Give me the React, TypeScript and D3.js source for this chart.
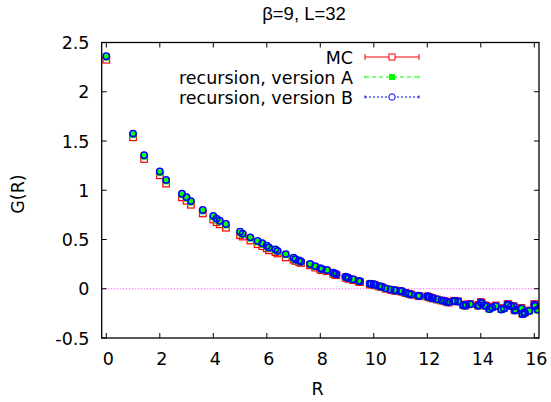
import React from "react";
import * as d3 from "d3";

const W = 551;
const H = 402;

// R values (lattice distances)
const rValues = [
  0, 1, 1.414, 2, 2.236, 2.828, 3, 3.162, 3.606, 4, 4.123, 4.243, 4.472, 5, 5.099, 5.385, 5.657, 5.831,
  6, 6.083, 6.325, 6.403, 6.708, 7, 7.071, 7.211, 7.28, 7.616, 7.81, 8, 8.062, 8.246, 8.485, 8.544, 8.602,
  8.944, 9, 9.055, 9.22, 9.434, 9.487, 9.849, 9.899, 10, 10.05, 10.198, 10.296, 10.44, 10.63, 10.77, 10.817,
  11, 11.045, 11.18, 11.314, 11.402, 11.662, 11.705, 12, 12.042, 12.083, 12.166, 12.207, 12.369, 12.53,
  12.649, 12.728, 12.806, 13, 13.038, 13.153, 13.342, 13.416, 13.454, 13.601, 13.892, 13.928, 14, 14.036,
  14.142, 14.213, 14.318, 14.422, 14.56, 14.765, 14.866, 15, 15.033, 15.133, 15.232, 15.264, 15.297, 15.524,
  15.556, 15.62, 15.652, 15.811, 16, 16.031, 16.125,
];

const gMC = [
  2.325, 1.538, 1.318, 1.152, 1.068, 0.928, 0.893, 0.853, 0.765, 0.703, 0.676, 0.654, 0.62, 0.545, 0.53, 0.49,
  0.452, 0.432, 0.41, 0.39, 0.372, 0.358, 0.318, 0.295, 0.283, 0.27, 0.262, 0.238, 0.215, 0.195, 0.188, 0.178,
  0.15, 0.144, 0.138, 0.112, 0.108, 0.1, 0.088, 0.072, 0.067, 0.045, 0.043, 0.04, 0.034, 0.022, 0.016, 0.0,
  -0.012, -0.018, -0.02, -0.025, -0.03, -0.043, -0.052, -0.06, -0.072, -0.076, -0.078, -0.083, -0.088, -0.094,
  -0.099, -0.11, -0.12, -0.127, -0.134, -0.14, -0.122, -0.126, -0.128, -0.165, -0.17, -0.16, -0.155, -0.17,
  -0.165, -0.135, -0.145, -0.168, -0.175, -0.2, -0.186, -0.17, -0.205, -0.196, -0.155, -0.16, -0.175, -0.176,
  -0.218, -0.21, -0.195, -0.255, -0.236, -0.24, -0.22, -0.155, -0.17, -0.208,
];

const mcErr = [
  0.006, 0.005, 0.005, 0.005, 0.005, 0.005, 0.005, 0.005, 0.005, 0.005, 0.005, 0.005, 0.005, 0.005, 0.005, 0.005,
  0.005, 0.005, 0.005, 0.005, 0.005, 0.005, 0.005, 0.005, 0.005, 0.005, 0.005, 0.005, 0.005, 0.005, 0.005, 0.005,
  0.005, 0.005, 0.005, 0.005, 0.005, 0.005, 0.005, 0.005, 0.005, 0.005, 0.005, 0.005, 0.005, 0.005, 0.005, 0.005,
  0.006, 0.006, 0.006, 0.006, 0.006, 0.006, 0.006, 0.006, 0.006, 0.006, 0.006, 0.006, 0.006, 0.006, 0.006, 0.006,
  0.006, 0.006, 0.006, 0.006, 0.007, 0.007, 0.007, 0.007, 0.007, 0.007, 0.007, 0.007, 0.007, 0.007, 0.007, 0.007,
  0.007, 0.007, 0.007, 0.007, 0.007, 0.007, 0.008, 0.008, 0.008, 0.008, 0.008, 0.008, 0.008, 0.008, 0.008, 0.008,
  0.008, 0.008, 0.008, 0.008, 0.008,
];

const gA = [
  2.348, 1.563, 1.343, 1.178, 1.093, 0.953, 0.918, 0.878, 0.788, 0.728, 0.7, 0.678, 0.645, 0.566, 0.549, 0.511,
  0.474, 0.451, 0.428, 0.411, 0.392, 0.377, 0.344, 0.307, 0.293, 0.28, 0.27, 0.245, 0.223, 0.202, 0.195, 0.184,
  0.157, 0.15, 0.143, 0.117, 0.112, 0.105, 0.093, 0.076, 0.071, 0.048, 0.047, 0.043, 0.037, 0.024, 0.017, 0.001,
  -0.011, -0.018, -0.021, -0.025, -0.03, -0.043, -0.053, -0.061, -0.073, -0.076, -0.079, -0.083, -0.089, -0.095,
  -0.1, -0.11, -0.121, -0.127, -0.135, -0.141, -0.128, -0.13, -0.133, -0.171, -0.175, -0.166, -0.161, -0.175,
  -0.171, -0.143, -0.151, -0.173, -0.181, -0.208, -0.193, -0.178, -0.213, -0.203, -0.163, -0.168, -0.181, -0.183,
  -0.225, -0.218, -0.203, -0.261, -0.243, -0.248, -0.228, -0.165, -0.178, -0.215,
];

const gB = [
  2.36, 1.575, 1.355, 1.19, 1.105, 0.965, 0.93, 0.89, 0.8, 0.74, 0.712, 0.69, 0.657, 0.578, 0.56, 0.522,
  0.485, 0.462, 0.437, 0.42, 0.4, 0.385, 0.352, 0.315, 0.3, 0.287, 0.277, 0.252, 0.23, 0.208, 0.2, 0.19,
  0.162, 0.155, 0.148, 0.122, 0.117, 0.11, 0.097, 0.08, 0.075, 0.052, 0.05, 0.046, 0.04, 0.027, 0.02, 0.004,
  -0.008, -0.015, -0.018, -0.022, -0.027, -0.04, -0.05, -0.058, -0.07, -0.073, -0.076, -0.08, -0.086, -0.092,
  -0.097, -0.107, -0.118, -0.124, -0.132, -0.138, -0.125, -0.127, -0.13, -0.168, -0.172, -0.163, -0.158, -0.172,
  -0.168, -0.14, -0.148, -0.17, -0.178, -0.205, -0.19, -0.175, -0.21, -0.2, -0.16, -0.165, -0.178, -0.18,
  -0.222, -0.215, -0.2, -0.258, -0.24, -0.245, -0.225, -0.162, -0.175, -0.212,
];

const xTicks = [0, 2, 4, 6, 8, 10, 12, 14, 16];
const yTicks = [-0.5, 0, 0.5, 1, 1.5, 2, 2.5];
const legendLabels = ["MC", "recursion, version A", "recursion, version B"];

const X_DOMAIN: [number, number] = [-0.172, 16.176];
const Y_DOMAIN: [number, number] = [-0.5, 2.5];

const plot = { left: 101.7, right: 539, top: 42.5, bottom: 338 };

const FONT = "'DejaVu Sans', sans-serif";

export default function App() {
  const x = d3.scaleLinear().domain(X_DOMAIN).range([plot.left, plot.right]);
  const y = d3.scaleLinear().domain(Y_DOMAIN).range([plot.bottom, plot.top]);

  const tickLen = 5;
  const legX0 = 365;
  const legX1 = 419;
  const legXM = 392;
  const legTextX = 353;
  const legY = [57, 77, 97];

  return (
    <svg
      width={W}
      height={H}
      style={{ position: "absolute", left: 0, top: 0, background: "#fff" }}
      xmlns="http://www.w3.org/2000/svg"
    >
      <rect x={0} y={0} width={W} height={H} fill="#fff" />
      <defs>
        <clipPath id="plotclip">
          <rect x={plot.left} y={plot.top} width={plot.right - plot.left} height={plot.bottom - plot.top} />
        </clipPath>
      </defs>

      {/* zero line */}
      <line
        x1={plot.left}
        x2={plot.right}
        y1={y(0)}
        y2={y(0)}
        stroke="#ff00ff"
        strokeOpacity={0.55}
        strokeWidth={1}
        strokeDasharray="1.5,1.5"
      />

      {/* ticks */}
      {xTicks.map((t) => (
        <g key={"xt" + t}>
          <line x1={x(t)} x2={x(t)} y1={plot.bottom} y2={plot.bottom - tickLen} stroke="#000" />
          <line x1={x(t)} x2={x(t)} y1={plot.top} y2={plot.top + tickLen} stroke="#000" />
          <text
            x={x(t) + 2}
            y={365}
            textAnchor="middle"
            fontFamily={FONT}
            fontSize={17.5}
            fill="#000"
          >
            {t}
          </text>
        </g>
      ))}
      {yTicks.map((t) => (
        <g key={"yt" + t}>
          <line x1={plot.left} x2={plot.left + tickLen} y1={y(t)} y2={y(t)} stroke="#000" />
          <line x1={plot.right} x2={plot.right - tickLen} y1={y(t)} y2={y(t)} stroke="#000" />
          <text
            x={89.5}
            y={y(t) + 6.5}
            textAnchor="end"
            fontFamily={FONT}
            fontSize={17.5}
            fill="#000"
          >
            {t}
          </text>
        </g>
      ))}

      {/* data */}
      <g clipPath="url(#plotclip)">
        {rValues.map((r, i) => (
          <g key={"mc" + i}>
            <line
              x1={x(r)}
              x2={x(r)}
              y1={y(gMC[i] - mcErr[i])}
              y2={y(gMC[i] + mcErr[i])}
              stroke="#ff0000"
            />
            <rect
              x={x(r) - 3.3}
              y={y(gMC[i]) - 3.3}
              width={6.6}
              height={6.6}
              fill="none"
              stroke="#ff0000"
              strokeWidth={1.2}
            />
          </g>
        ))}
        {rValues.map((r, i) => (
          <rect
            key={"a" + i}
            x={x(r) - 3.3}
            y={y(gA[i]) - 3.3}
            width={6.6}
            height={6.6}
            fill="#00ff00"
          />
        ))}
        {rValues.map((r, i) => (
          <circle
            key={"b" + i}
            cx={x(r)}
            cy={y(gB[i])}
            r={3.2}
            fill="none"
            stroke="#0000ff"
            strokeWidth={1.5}
          />
        ))}
      </g>

      {/* frame */}
      <rect
        x={plot.left}
        y={plot.top}
        width={plot.right - plot.left}
        height={plot.bottom - plot.top}
        fill="none"
        stroke="#000"
        strokeWidth={1.3}
      />

      {/* legend */}
      {legendLabels.map((lab, i) => (
        <text
          key={"lt" + i}
          x={legTextX}
          y={legY[i] + 6.5}
          textAnchor="end"
          fontFamily={FONT}
          fontSize={17.5}
          fill="#000"
        >
          {lab}
        </text>
      ))}
      {/* MC sample */}
      <line x1={legX0} x2={legX1} y1={legY[0]} y2={legY[0]} stroke="#ff0000" />
      <line x1={legX0} x2={legX0} y1={legY[0] - 3} y2={legY[0] + 3} stroke="#ff0000" />
      <line x1={legX1} x2={legX1} y1={legY[0] - 3} y2={legY[0] + 3} stroke="#ff0000" />
      <rect x={legXM - 3} y={legY[0] - 3} width={6} height={6} fill="#fff" stroke="#ff0000" />
      {/* A sample */}
      <line x1={legX0} x2={legX1} y1={legY[1]} y2={legY[1]} stroke="#00ff00" strokeDasharray="4,3" />
      <line x1={legX0} x2={legX0} y1={legY[1] - 1.5} y2={legY[1] + 1.5} stroke="#00ff00" />
      <line x1={legX1} x2={legX1} y1={legY[1] - 1.5} y2={legY[1] + 1.5} stroke="#00ff00" />
      <rect x={legXM - 3} y={legY[1] - 3} width={6} height={6} fill="#00ff00" />
      {/* B sample */}
      <line x1={legX0} x2={legX1} y1={legY[2]} y2={legY[2]} stroke="#0000ff" strokeDasharray="2,2" />
      <line x1={legX0} x2={legX0} y1={legY[2] - 1.5} y2={legY[2] + 1.5} stroke="#0000ff" />
      <line x1={legX1} x2={legX1} y1={legY[2] - 1.5} y2={legY[2] + 1.5} stroke="#0000ff" />
      <circle cx={legXM} cy={legY[2]} r={3.2} fill="#fff" stroke="#0000ff" />

      {/* title & axis labels */}
      <text
        x={304}
        y={19.5}
        textAnchor="middle"
        fontFamily="'Liberation Sans', Arial, sans-serif"
        fontSize={18.5}
        fill="#000"
      >
        β=9, L=32
      </text>
      <text
        x={317.5}
        y={395}
        textAnchor="middle"
        fontFamily={FONT}
        fontSize={17.5}
        fill="#000"
      >
        R
      </text>
      <text
        transform={`translate(23.5,${194}) rotate(-90)`}
        textAnchor="middle"
        fontFamily={FONT}
        fontSize={17.5}
        fill="#000"
      >
        G(R)
      </text>
    </svg>
  );
}
